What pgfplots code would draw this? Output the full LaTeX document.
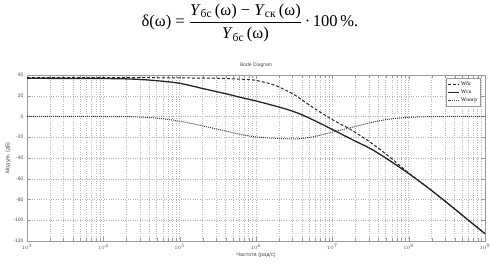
\documentclass[border=0pt]{standalone}
\usepackage{pgfplots}
\pgfplotsset{compat=1.18}
\usepackage{pgfplotstable}
\usepackage{fontspec}
\setmainfont{Liberation Sans}
\newfontfamily\serif{Liberation Serif}

\pgfplotstableread{
x y
1e3 37.5
1e4 37.5
3.16e4 37.4
1e5 37.2
3.16e5 36.8
7.08e5 35.8
1e6 34.8
1.778e6 30
3.162e6 21
5.623e6 8.5
1e7 -3
1.778e7 -13
3.162e7 -25
5.623e7 -39
1e8 -54.5
1.778e8 -68.5
3.162e8 -83
5.623e8 -98
1e9 -113
}\wbs

\pgfplotstableread{
x y
1e3 36.8
1e4 36.6
2.512e4 36
5.012e4 34.5
1e5 32
1.995e5 27
3.981e5 22
7.079e5 17.5
1e6 15
2.138e6 8.5
3.467e6 3.5
5.495e6 -3
1e7 -12.5
1.905e7 -23
3.162e7 -31
5.248e7 -41
1e8 -55
1.778e8 -68.5
3.162e8 -83
5.623e8 -98
1e9 -113
}\wsk

\pgfplotstableread{
x y
1e3 0
1e4 0
2.512e4 -0.3
5.012e4 -1.5
1e5 -4.5
1.995e5 -9
3.981e5 -14
7.079e5 -18
1e6 -19.7
2.138e6 -21.3
3.467e6 -21.5
5.495e6 -19.7
1e7 -15
1.905e7 -10
3.162e7 -6
5.248e7 -2.8
1e8 -0.8
1.778e8 -0.2
3.162e8 0
1e9 0
}\wpogr

\begin{document}
\begin{tikzpicture}
\useasboundingbox (0pt,0pt) rectangle (490pt,264pt);
\node at (250pt,241pt) {\serif\fontsize{16.5}{19}\selectfont
 δ(ω) = $\displaystyle\frac{\mbox{\textit{Y}\textsubscript{бс}\,(ω) − \textit{Y}\textsubscript{ск}\,(ω)}}{\mbox{\textit{Y}\textsubscript{бс}\,(ω)}}$\,·\,100\,\%.};
\begin{axis}[
  at={(27pt,23pt)}, anchor=south west,
  scale only axis, width=458pt, height=166pt,
  xmode=log, xmin=1e3, xmax=1e9,
  ymin=-120, ymax=40, ytick={-120,-100,...,40},
  grid=both,
  major grid style={dotted, gray!60, line width=0.45pt},
  minor grid style={dotted, gray!55, line width=0.4pt},
  axis line style={gray!80, line width=0.6pt},
  tick style={gray!80},
  minor tick num=0,
  ticklabel style={font=\fontsize{5}{6}\selectfont, text=gray!60!black},
  /pgf/number format/assume math mode=true,
  title={Bode Diagram},
  title style={font=\fontsize{5}{6}\selectfont, text=gray!60!black, yshift=-2pt},
  xlabel={Частота (рад/с)},
  ylabel={Модуль (дБ)},
  label style={font=\fontsize{5.5}{6}\selectfont, text=gray!60!black},
  xlabel style={yshift=4pt},
  ylabel style={yshift=-4pt},
  legend style={at={(0.99,0.98)}, anchor=north east, font=\serif\fontsize{5.5}{6}\selectfont,
    draw=gray!80, fill=white, cells={anchor=west}, inner sep=1.2pt, row sep=-1pt},
  legend image post style={xscale=0.6},
]
\addplot[black!85, densely dashed, line width=1pt, smooth] table {\wbs};
\addlegendentry{Wбс}
\addplot[black!85, line width=1.3pt, smooth] table {\wsk};
\addlegendentry{Wск}
\addplot[black!75, densely dotted, line width=1pt, smooth] table {\wpogr};
\addlegendentry{Wпогр}
\end{axis}
\end{tikzpicture}
\end{document}
